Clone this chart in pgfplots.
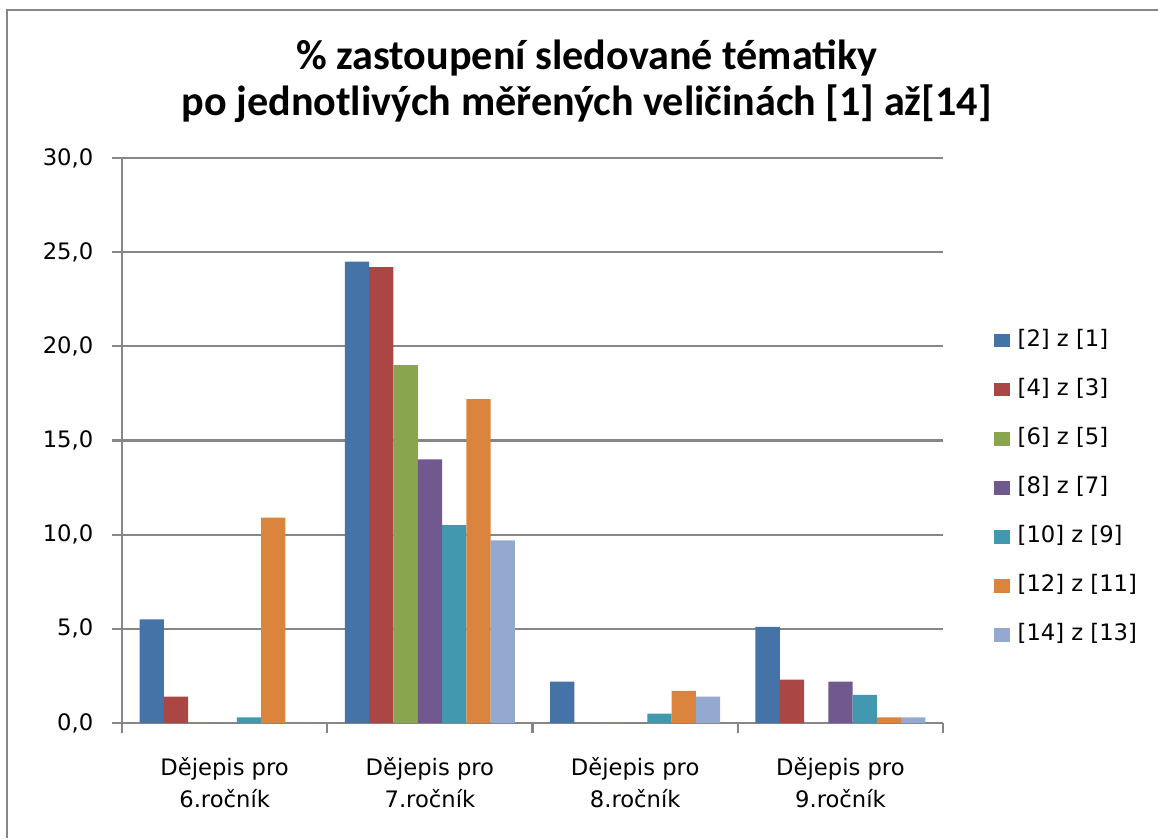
\documentclass[border=0pt]{standalone}
\usepackage{fontspec}
\setmainfont{DejaVu Sans}
\newfontfamily\titlefont{Carlito}
\usepackage{pgfplots}
\pgfplotsset{compat=1.18}

\definecolor{s1}{HTML}{4572A7}
\definecolor{s2}{HTML}{AA4643}
\definecolor{s3}{HTML}{89A54E}
\definecolor{s4}{HTML}{71588F}
\definecolor{s5}{HTML}{4198AF}
\definecolor{s6}{HTML}{DB843D}
\definecolor{s7}{HTML}{93A9CF}
\definecolor{gridgray}{RGB}{134,134,134}

\begin{document}
\begin{tikzpicture}
  \useasboundingbox (0pt,0pt) rectangle (434.25pt,314.25pt);
  % chart frame (only top and left edges are visible)
  \draw[gridgray, line width=1pt] (2.6pt,0pt) -- (2.6pt,310.5pt) -- (434.25pt,310.5pt);
  \node[anchor=base, font=\titlefont\bfseries\fontsize{15.8}{18}\selectfont]
    at (220pt,288pt) {\% zastoupení sledované tématiky};
  \node[anchor=base, font=\titlefont\bfseries\fontsize{15.8}{18}\selectfont]
    at (220pt,271.1pt) {po jednotlivých měřených veličinách [1] až[14]};

  \begin{axis}[
    at={(45.75pt,43.125pt)}, anchor=south west,
    scale only axis, width=307.9pt, height=211.9pt,
    ybar=0pt, bar width=9.1pt,
    legend image code/.code={\fill[#1] (0pt,-2.6pt) rectangle (6pt,2.6pt);},
    xmin=-0.5, xmax=3.5, ymin=0, ymax=30,
    axis x line*=bottom, axis y line*=left,
    axis line style={gridgray, line width=0.8pt},
    ytick={0,5,...,30},
    ymajorgrids, major grid style={gridgray, line width=0.8pt},
    xtick={0,1,2,3},
    xticklabels={{Dějepis pro\\6.ročník},{Dějepis pro\\7.ročník},{Dějepis pro\\8.ročník},{Dějepis pro\\9.ročník}},
    minor xtick={-0.5,0.5,1.5,2.5,3.5},
    major x tick style={draw=none},
    tick align=outside,
    major tick length=3.75pt, minor tick length=3.75pt,
    tick style={gridgray, line width=0.8pt},
    ticklabel style={font=\fontsize{8.5}{12}\selectfont},
    xticklabel style={align=center, yshift=-5.5pt},
    yticklabel style={xshift=-3.5pt},
    /pgf/number format/.cd, fixed, fixed zerofill, precision=1, use comma, assume math mode=true,
    /pgfplots/.cd,
    legend style={draw=none, fill=none, at={(1.061,0.698)}, anchor=north west,
      font=\fontsize{8.5}{10}\selectfont, row sep=9.9pt, inner sep=0pt,
      nodes={inner sep=0pt, text height=6.5pt, text depth=2pt},
      column sep=3pt},
    legend cell align=left,
  ]
    \addplot[fill=s1, draw=none] coordinates {(0,5.5) (1,24.5) (2,2.2) (3,5.1)};
    \addlegendentry{{}[2] z [1]}
    \addplot[fill=s2, draw=none] coordinates {(0,1.4) (1,24.2) (2,0) (3,2.3)};
    \addlegendentry{{}[4] z [3]}
    \addplot[fill=s3, draw=none] coordinates {(0,0) (1,19.0) (2,0) (3,0)};
    \addlegendentry{{}[6] z [5]}
    \addplot[fill=s4, draw=none] coordinates {(0,0) (1,14.0) (2,0) (3,2.2)};
    \addlegendentry{{}[8] z [7]}
    \addplot[fill=s5, draw=none] coordinates {(0,0.3) (1,10.5) (2,0.5) (3,1.5)};
    \addlegendentry{{}[10] z [9]}
    \addplot[fill=s6, draw=none] coordinates {(0,10.9) (1,17.2) (2,1.7) (3,0.3)};
    \addlegendentry{{}[12] z [11]}
    \addplot[fill=s7, draw=none] coordinates {(0,0) (1,9.7) (2,1.4) (3,0.3)};
    \addlegendentry{{}[14] z [13]}
  \end{axis}
\end{tikzpicture}
\end{document}
